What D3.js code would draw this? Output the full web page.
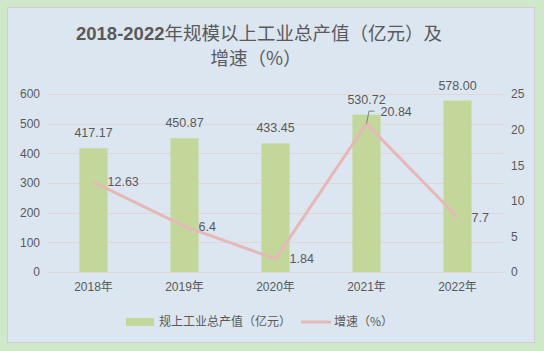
<!DOCTYPE html>
<html>
<head>
<meta charset="utf-8">
<script src="https://cdn.jsdelivr.net/npm/d3@7"></script>
<style>
  body { margin: 0; background: #d0e8ca; }
  svg { display: block; }
</style>
</head>
<body>
<div id="chart"></div>
<script>
const years = ['2018年', '2019年', '2020年', '2021年', '2022年'];
const outputValues = [417.17, 450.87, 433.45, 530.72, 578.00];
const growthRates = [12.63, 6.4, 1.84, 20.84, 7.7];
const leftTicks = [0, 100, 200, 300, 400, 500, 600];
const rightTicks = [0, 5, 10, 15, 20, 25];
const barName = '规上工业总产值（亿元）';
const lineName = '增速（%）';

const W = 544, H = 351;
const textColor = '#595959';
const font = 'Liberation Sans, Noto Sans CJK SC, sans-serif';
const cjkFont = 'Noto Sans CJK SC, sans-serif';

const svg = d3.select('#chart').append('svg')
    .attr('width', W)
    .attr('height', H)
    .style('font-family', font);

// background panels
svg.append('rect').attr('width', W).attr('height', H).attr('fill', '#d0e8ca');
svg.append('rect')
    .attr('x', 7.5).attr('y', 7.5)
    .attr('width', 527).attr('height', 335)
    .attr('fill', '#dce6f1')
    .attr('stroke', '#d6cdd2');

// title
const title = svg.append('text')
    .attr('text-anchor', 'middle')
    .attr('fill', textColor)
    .style('font-size', '18.5px');
const t1 = title.append('tspan').attr('x', 259).attr('y', 40);
t1.append('tspan').style('font-weight', 'bold').text('2018-2022');
t1.append('tspan').style('font-family', cjkFont).text('年规模以上工业总产值（亿元）及');
title.append('tspan').attr('x', 256).attr('y', 64.5)
    .style('font-family', cjkFont).text('增速（%）');

// scales
const x = d3.scaleBand()
    .domain(years)
    .range([48, 503])
    .paddingInner(0.69)
    .paddingOuter(0.345);
const yL = d3.scaleLinear().domain([0, 600]).range([272, 94]);
const yR = d3.scaleLinear().domain([0, 25]).range([272, 94]);
const cx = d => x(d) + x.bandwidth() / 2;

// grid
svg.append('g').selectAll('line')
    .data(leftTicks)
    .enter()
    .append('line')
    .attr('x1', 48).attr('x2', 503)
    .attr('y1', d => Math.round(yL(d)) + 0.5)
    .attr('y2', d => Math.round(yL(d)) + 0.5)
    .attr('stroke', '#e2d6d6')
    .attr('stroke-width', 1);

// axes
const axisL = svg.append('g')
    .attr('transform', 'translate(40,0)')
    .call(d3.axisLeft(yL).tickValues(leftTicks).tickSize(0).tickPadding(0));
const axisR = svg.append('g')
    .attr('transform', 'translate(511,0)')
    .call(d3.axisRight(yR).tickValues(rightTicks).tickSize(0).tickPadding(0));
const axisX = svg.append('g')
    .attr('transform', 'translate(0,280)')
    .call(d3.axisBottom(x).tickSize(0).tickPadding(0));
[axisL, axisR, axisX].forEach(a => {
    a.select('.domain').remove();
    a.selectAll('text')
        .attr('fill', textColor)
        .style('font-size', '12px')
        .style('font-family', font);
});
axisX.selectAll('text').attr('dy', '0.9em');

// bars
svg.selectAll('.bar')
    .data(outputValues)
    .enter()
    .append('rect')
    .attr('class', 'bar')
    .attr('x', (d, i) => x(years[i]))
    .attr('width', x.bandwidth())
    .attr('y', d => yL(d))
    .attr('height', d => yL(0) - yL(d))
    .attr('fill', '#c4d79b');

// bar labels
svg.selectAll('.bar-label')
    .data(outputValues)
    .enter()
    .append('text')
    .attr('class', 'bar-label')
    .attr('x', (d, i) => cx(years[i]))
    .attr('y', d => yL(d) - 11)
    .attr('text-anchor', 'middle')
    .attr('fill', textColor)
    .style('font-size', '12.5px')
    .text(d => d.toFixed(2));

// growth line
const line = d3.line()
    .x((d, i) => cx(years[i]))
    .y(d => yR(d));
svg.append('path')
    .datum(growthRates)
    .attr('d', line)
    .attr('fill', 'none')
    .attr('stroke', '#e6b8b7')
    .attr('stroke-width', 3)
    .attr('stroke-linejoin', 'round');

// leader line for the 2021 label
const peak = growthRates.indexOf(d3.max(growthRates));
const px = cx(years[peak]), py = yR(growthRates[peak]);
svg.append('path')
    .attr('d', `M${px},${py} L${px + 2.5},${py - 12.5} L${px + 8},${py - 12.5}`)
    .attr('fill', 'none')
    .attr('stroke', '#7f7f7f')
    .attr('stroke-width', 1);

// line labels
svg.selectAll('.line-label')
    .data(growthRates)
    .enter()
    .append('text')
    .attr('class', 'line-label')
    .attr('x', (d, i) => cx(years[i]) + 14)
    .attr('y', (d, i) => yR(d) + (i === peak ? -12 : 0))
    .attr('dy', '0.35em')
    .attr('fill', textColor)
    .style('font-size', '12.5px')
    .text(d => d);

// legend
const legend = svg.append('g').attr('transform', 'translate(0,322)');
legend.append('rect')
    .attr('x', 126).attr('y', -4)
    .attr('width', 28).attr('height', 8)
    .attr('fill', '#c4d79b');
legend.append('text')
    .attr('x', 159).attr('dy', '0.35em')
    .attr('fill', textColor)
    .style('font-size', '12px')
    .style('font-family', cjkFont)
    .text(barName);
legend.append('line')
    .attr('x1', 301).attr('x2', 331)
    .attr('stroke', '#e6b8b7')
    .attr('stroke-width', 3);
legend.append('text')
    .attr('x', 334).attr('dy', '0.35em')
    .attr('fill', textColor)
    .style('font-size', '12px')
    .style('font-family', cjkFont)
    .text(lineName);
</script>
</body>
</html>
